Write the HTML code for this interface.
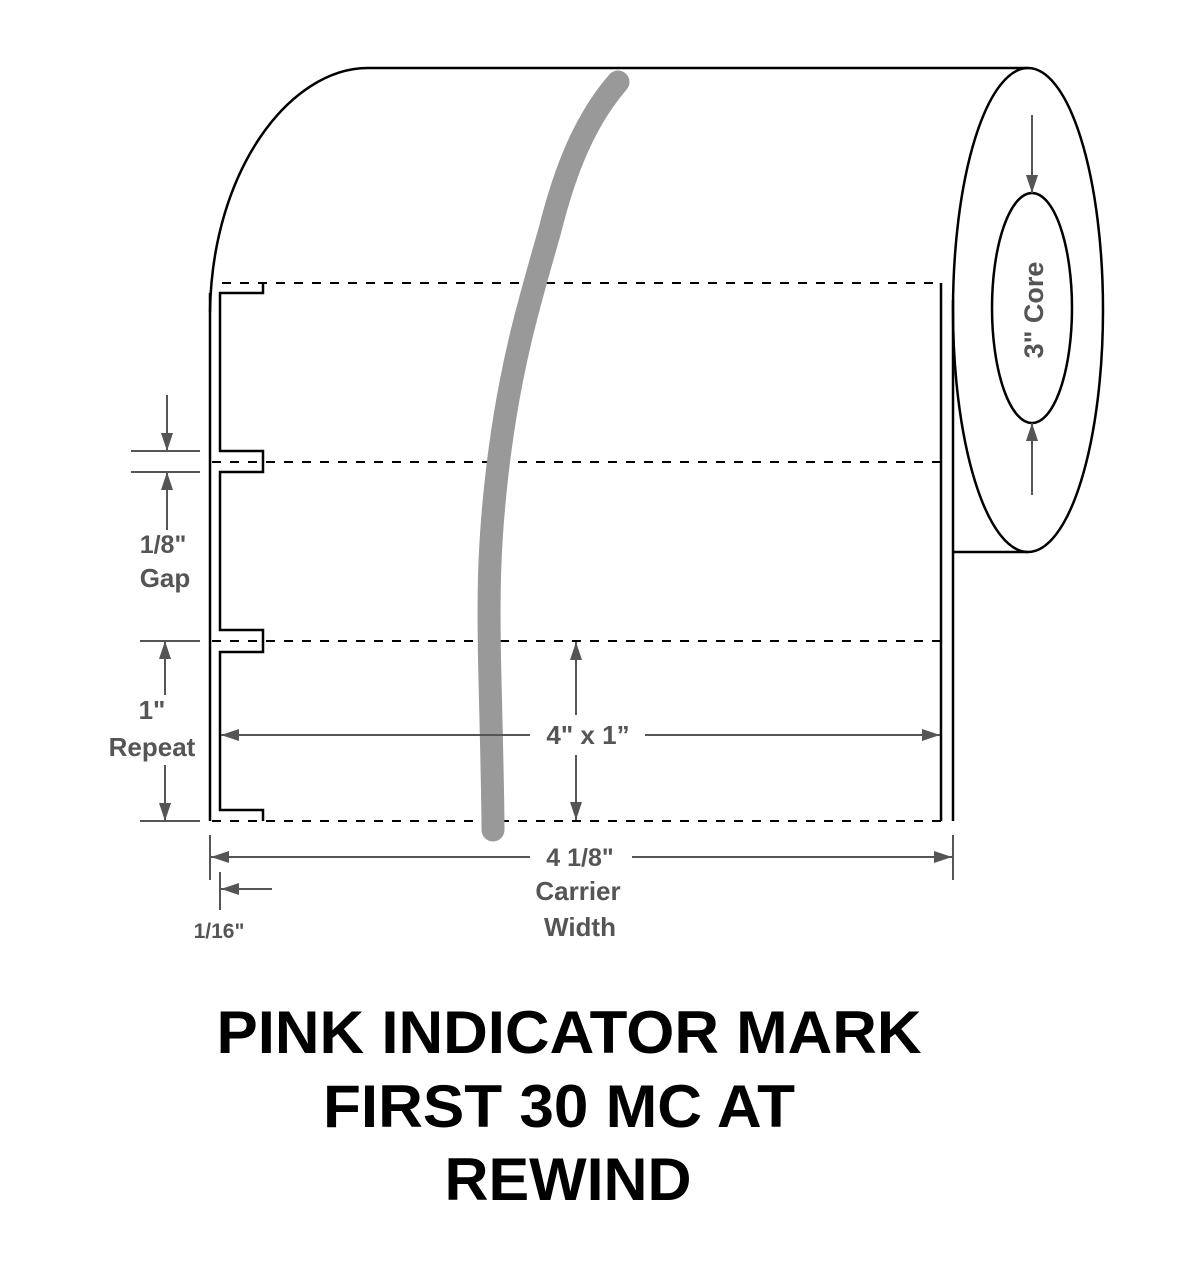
<!DOCTYPE html>
<html><head><meta charset="utf-8"><style>body{margin:0;background:#fff}svg{display:block}</style></head>
<body>
<svg width="1200" height="1285" viewBox="0 0 1200 1285" xmlns="http://www.w3.org/2000/svg" font-family="Liberation Sans, sans-serif">
<defs>
<marker id="ah2" viewBox="0 0 10 10" refX="10" refY="5" markerWidth="18" markerHeight="12" orient="auto-start-reverse" markerUnits="userSpaceOnUse" preserveAspectRatio="none"><path d="M0,0 L10,5 L0,10 z" fill="#555"/></marker>
</defs>
<g fill="none" stroke="#000" stroke-width="2.5">
<path d="M210,312 C212,170 290,68 368,68 L1028,68"/>
<ellipse cx="1028" cy="310" rx="75" ry="242"/>
<ellipse cx="1032" cy="308" rx="40" ry="115"/>
<line x1="953" y1="552" x2="1028" y2="552"/>
<line x1="210" y1="293" x2="210" y2="821"/>
<line x1="941" y1="283" x2="941" y2="821"/>
<line x1="953" y1="300" x2="953" y2="821"/>
<path d="M263,283 V293 H220 V451 H263 V472 H220 V630 H263 V652 H220 V810 H263 V821"/>
</g>
<g stroke="#000" stroke-width="2" stroke-dasharray="9,9">
<line x1="222" y1="283" x2="941" y2="283"/>
<line x1="212" y1="462" x2="941" y2="462"/>
<line x1="212" y1="641" x2="941" y2="641"/>
<line x1="212" y1="821" x2="941" y2="821"/>
</g>
<path d="M618,82 C585,120 565,170 550,230 C530,300 512,360 500,450 C488,540 488,600 490,680 C492,760 493,800 493,830" fill="none" stroke="#999" stroke-width="23" stroke-linecap="round"/>
<g stroke="#555" stroke-width="2" fill="none">
<line x1="1032" y1="115" x2="1032" y2="193" marker-end="url(#ah2)"/>
<line x1="1032" y1="495" x2="1032" y2="423" marker-end="url(#ah2)"/>
<line x1="131" y1="451" x2="200" y2="451"/>
<line x1="131" y1="472" x2="200" y2="472"/>
<line x1="167" y1="395" x2="167" y2="451" marker-end="url(#ah2)"/>
<line x1="167" y1="530" x2="167" y2="472" marker-end="url(#ah2)"/>
<line x1="140" y1="641" x2="200" y2="641"/>
<line x1="140" y1="821" x2="200" y2="821"/>
<line x1="165" y1="695" x2="165" y2="641" marker-end="url(#ah2)"/>
<line x1="165" y1="765" x2="165" y2="821" marker-end="url(#ah2)"/>
<line x1="530" y1="735" x2="221" y2="735" marker-end="url(#ah2)"/>
<line x1="645" y1="735" x2="940" y2="735" marker-end="url(#ah2)"/>
<line x1="576" y1="715" x2="576" y2="642" marker-end="url(#ah2)"/>
<line x1="576" y1="755" x2="576" y2="820" marker-end="url(#ah2)"/>
<line x1="210" y1="835" x2="210" y2="880"/>
<line x1="953" y1="835" x2="953" y2="880"/>
<line x1="530" y1="857" x2="211" y2="857" marker-end="url(#ah2)"/>
<line x1="632" y1="857" x2="952" y2="857" marker-end="url(#ah2)"/>
<line x1="220" y1="872" x2="220" y2="910"/>
<line x1="272" y1="889" x2="221" y2="889" marker-end="url(#ah2)"/>
</g>
<g fill="#555" text-anchor="middle" font-size="25" font-weight="bold">
<text x="163" y="553">1/8"</text>
<text x="165" y="587" font-size="26">Gap</text>
<text x="152" y="719" font-size="26">1"</text>
<text x="152" y="756" font-size="26">Repeat</text>
<text x="588" y="744" font-size="26">4" x 1”</text>
<text x="580" y="866" font-size="25">4 1/8"</text>
<text x="578" y="900" font-size="26">Carrier</text>
<text x="580" y="936" font-size="26">Width</text>
<text x="219" y="938" font-size="21">1/16"</text>
<text transform="translate(1043,310) rotate(-90)" font-size="27">3" Core</text>
</g>
<g fill="#000" font-weight="bold" font-size="60" text-anchor="middle">
<text x="569" y="1053" textLength="705" lengthAdjust="spacingAndGlyphs">PINK INDICATOR MARK</text>
<text x="559" y="1127" textLength="472" lengthAdjust="spacingAndGlyphs">FIRST 30 MC AT</text>
<text x="568" y="1200" textLength="247" lengthAdjust="spacingAndGlyphs">REWIND</text>
</g>
</svg>
</body></html>
